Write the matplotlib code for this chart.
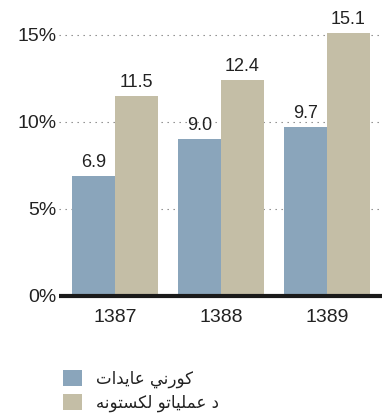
import matplotlib
matplotlib.use("Agg")
import matplotlib.pyplot as plt
import numpy as np

years = ["1387", "1388", "1389"]
revenue = [6.9, 9.0, 9.7]
operating = [11.5, 12.4, 15.1]
series_labels = ["کورني عايدات", "د عملیاتو لګښتونه"]
y_ticks = [0, 5, 10, 15]
y_tick_labels = ["0%", "5%", "10%", "15%"]

BLUE = "#8aa5bb"
BEIGE = "#c4bea6"
INK = "#222222"

# Arabic-script contextual forms (isolated, final, initial, medial).
# Right-joining letters have no initial/medial forms.
FORMS = {
    "ا": ("\uFE8D", "\uFE8E", None, None),
    "د": ("\uFEA9", "\uFEAA", None, None),
    "ر": ("\uFEAD", "\uFEAE", None, None),
    "و": ("\uFEED", "\uFEEE", None, None),
    "ت": ("\uFE95", "\uFE96", "\uFE97", "\uFE98"),
    "ع": ("\uFEC9", "\uFECA", "\uFECB", "\uFECC"),
    "ل": ("\uFEDD", "\uFEDE", "\uFEDF", "\uFEE0"),
    "م": ("\uFEE1", "\uFEE2", "\uFEE3", "\uFEE4"),
    "ن": ("\uFEE5", "\uFEE6", "\uFEE7", "\uFEE8"),
    "ه": ("\uFEE9", "\uFEEA", "\uFEEB", "\uFEEC"),
    "ي": ("\uFEF1", "\uFEF2", "\uFEF3", "\uFEF4"),
    "ک": ("\uFB8E", "\uFB8F", "\uFB90", "\uFB91"),
    "ی": ("\uFBFC", "\uFBFD", "\uFBFE", "\uFBFF"),
    # Pashto letters without presentation forms: nearest base shapes
    "ګ": ("\uFB8E", "\uFB8F", "\uFB90", "\uFB91"),
    "ښ": ("\uFEB1", "\uFEB2", "\uFEB3", "\uFEB4"),
}


def shape_rtl(text):
    """Pick joined glyph forms and reverse into visual order."""
    out = []
    for i, ch in enumerate(text):
        forms = FORMS.get(ch)
        if forms is None:
            out.append(ch)
            continue
        prev = text[i - 1] if i > 0 else None
        nxt = text[i + 1] if i + 1 < len(text) else None
        join_prev = prev in FORMS and FORMS[prev][2] is not None
        join_next = nxt in FORMS and forms[2] is not None
        if join_prev and join_next:
            g = forms[3]
        elif join_prev:
            g = forms[1]
        elif join_next:
            g = forms[2]
        else:
            g = forms[0]
        out.append(g)
    return "".join(reversed(out))


plt.rcParams["font.family"] = ["Liberation Sans", "DejaVu Sans"]

fig = plt.figure(figsize=(3.9, 4.15), dpi=100)
W, H = 390, 415
ax = fig.add_axes([59 / W, (H - 296) / H, (382 - 59) / W, 282 / H])

x = np.arange(len(years))
w = 0.405
b1 = ax.bar(x - w / 2, revenue, w, color=BLUE, zorder=2)
b2 = ax.bar(x + w / 2, operating, w, color=BEIGE, zorder=2)

for cont in (b1, b2):
    ax.bar_label(cont, fmt="%.1f", padding=3.5, fontsize=13, color=INK)

ax.set_xlim(-0.53, 2.52)
ax.set_ylim(0, 16.2)
ax.set_xticks(x)
ax.set_xticklabels(years, fontsize=14, color=INK)
ax.set_yticks(y_ticks)
ax.set_yticklabels(y_tick_labels, fontsize=14, color=INK)
ax.tick_params(axis="both", length=0)
ax.tick_params(axis="x", pad=9)
ax.tick_params(axis="y", pad=1.5)

for s in ax.spines.values():
    s.set_visible(False)

ax.yaxis.grid(True, color="#808080", linewidth=0.8, linestyle=(0, (1.2, 4.2)), zorder=1)
ax.set_axisbelow(True)
ax.axhline(0, color="#1a1a1a", linewidth=3, zorder=3, clip_on=False, solid_capstyle="butt")

leg = fig.legend(
    [b1, b2],
    [shape_rtl(t) for t in series_labels],
    loc="upper left",
    bbox_to_anchor=(63 / W, 1 - 370 / H),
    frameon=False,
    borderpad=0,
    borderaxespad=0,
    handlelength=1.15,
    handleheight=1.1,
    handletextpad=0.8,
    labelspacing=0.33,
    prop={"family": ["DejaVu Sans"], "size": 12},
)
for t in leg.get_texts():
    t.set_color(INK)

fig.savefig("out.png", dpi=100)
